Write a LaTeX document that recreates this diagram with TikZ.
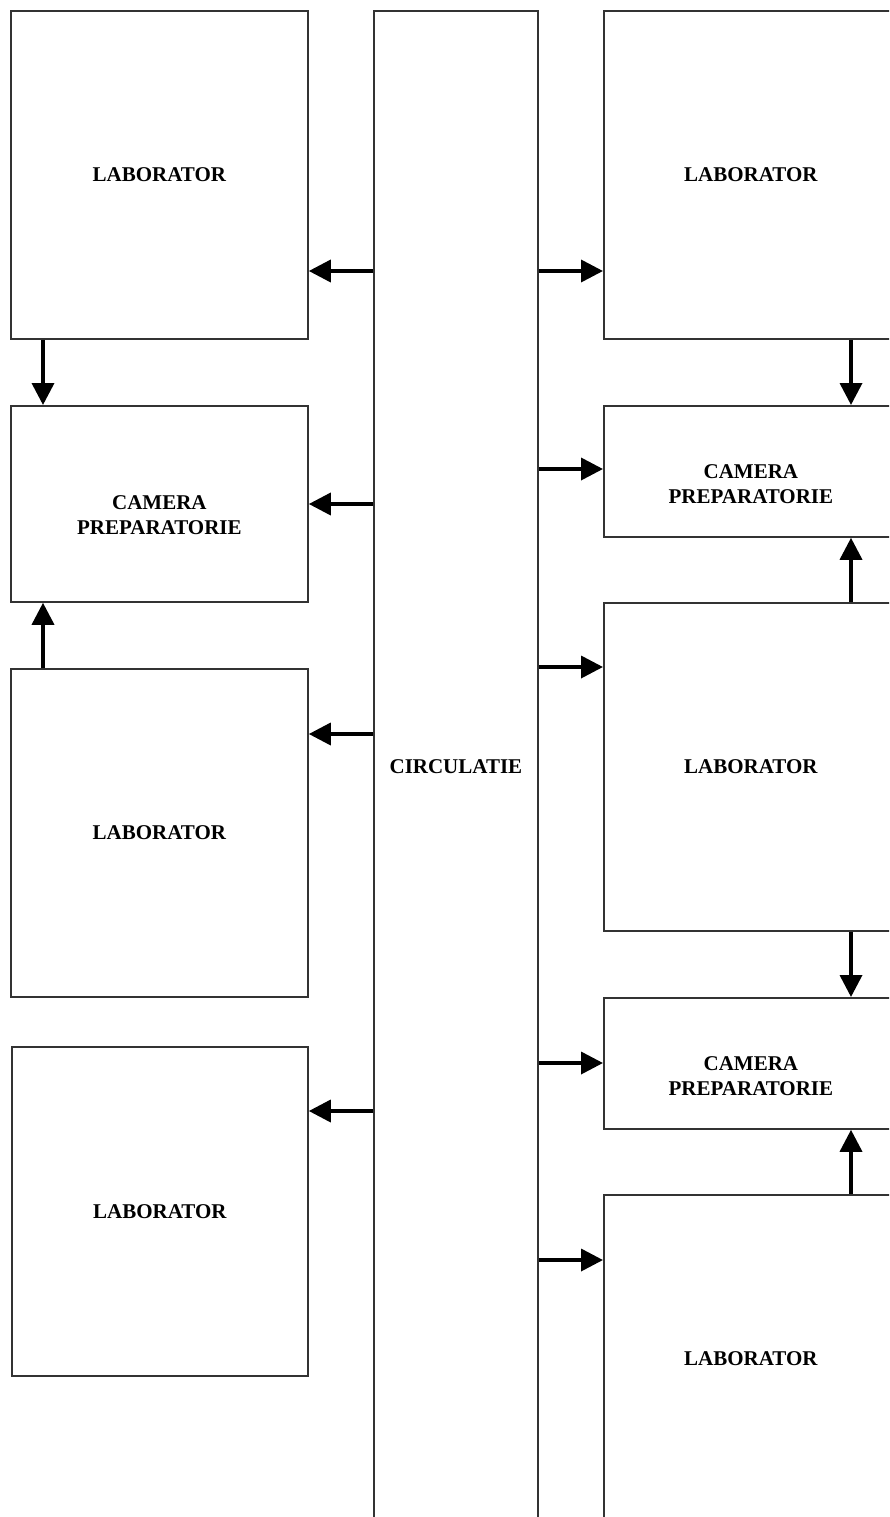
\documentclass[tikz,border=0pt]{standalone}
\usepackage{fontspec}
\setmainfont{Liberation Serif}
\usetikzlibrary{arrows.meta,calc}
\begin{document}
\begin{tikzpicture}[x=1pt,y=-1pt,
  box/.style={draw=black!80,line width=1.8pt,fill=white,inner sep=0pt,anchor=north west,
    font=\fontsize{21}{25}\selectfont\bfseries,align=center},
  arr/.style={line width=3.6pt,-{Triangle[length=22pt,width=22pt]},shorten >=0pt},
  cam/.style={label={[align=center,font=\fontsize{21}{25}\selectfont\bfseries,yshift=-11pt]center:CAMERA\\PREPARATORIE}},
  rcam/.style={label={[align=center,font=\fontsize{21}{25}\selectfont\bfseries,yshift=-13pt,xshift=-3pt]center:CAMERA\\PREPARATORIE}}
]
\useasboundingbox (0,0) rectangle (889,1517);
\clip (0,0) rectangle (889,1517);
\fill[white] (0,0) rectangle (889,1517);
% left column
\node[box,minimum width=297pt,minimum height=328pt] (l1) at (10,10) {LABORATOR};
\node[box,minimum width=297pt,minimum height=196pt,cam] (c1) at (10,405) {};
\node[box,minimum width=297pt,minimum height=328pt] (l2) at (10,668) {LABORATOR};
\node[box,minimum width=296pt,minimum height=329pt] (l3) at (11,1046) {LABORATOR};
% centre
\node[box,minimum width=164pt,minimum height=1512pt] (circ) at (373,10) {CIRCULATIE};
% right column
\node[box,minimum width=300pt,minimum height=328pt] (r1) at (603,10) {\hspace*{-6pt}LABORATOR};
\node[box,minimum width=300pt,minimum height=131pt,rcam] (rc1) at (603,405) {};
\node[box,minimum width=300pt,minimum height=328pt] (r2) at (603,602) {\hspace*{-6pt}LABORATOR};
\node[box,minimum width=300pt,minimum height=131pt,rcam] (rc2) at (603,997) {};
\node[box,minimum width=300pt,minimum height=328pt] (r3) at (603,1194) {\hspace*{-6pt}LABORATOR};
% horizontal arrows left
\foreach \yy/\tg in {271/l1,504/c1,734/l2,1111/l3}
  \draw[arr] (circ.west |- {0,\yy}) -- (\tg.east |- {0,\yy});
% horizontal arrows right
\foreach \yy/\tg in {271/r1,469/rc1,667/r2,1063/rc2,1260/r3}
  \draw[arr] (circ.east |- {0,\yy}) -- (\tg.west |- {0,\yy});
% vertical arrows
\draw[arr] ($(l1.south west)+(33,0)$) -- ($(c1.north west)+(33,0)$);
\draw[arr] ($(l2.north west)+(33,0)$) -- ($(c1.south west)+(33,0)$);
\draw[arr] ($(r1.south west)+(248,0)$) -- ($(rc1.north west)+(248,0)$);
\draw[arr] ($(r2.north west)+(248,0)$) -- ($(rc1.south west)+(248,0)$);
\draw[arr] ($(r2.south west)+(248,0)$) -- ($(rc2.north west)+(248,0)$);
\draw[arr] ($(r3.north west)+(248,0)$) -- ($(rc2.south west)+(248,0)$);
\end{tikzpicture}
\end{document}
